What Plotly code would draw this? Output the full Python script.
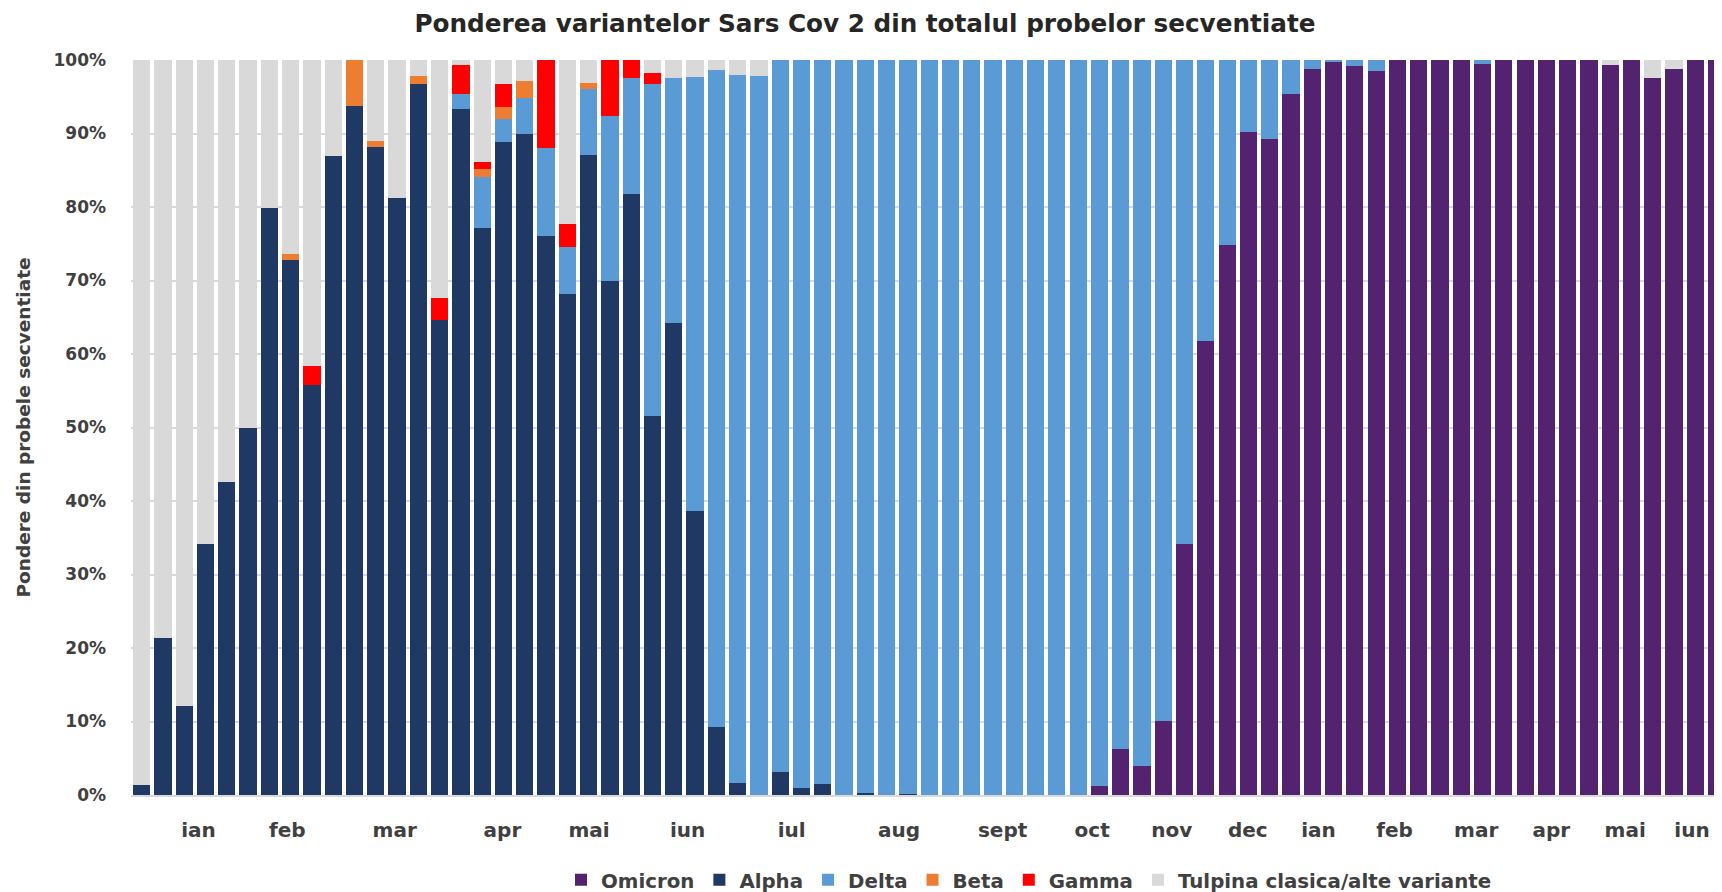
import plotly.graph_objects as go

# ---- data (percent of sequenced samples, one value per weekly bar) ----
omicron = [0]*45 + [1.2, 6.2, 4.0, 10.1, 34.2, 61.8, 74.8, 90.2, 89.2, 95.4,
                    98.8, 99.7, 99.2, 98.5, 100, 100, 100, 100, 99.5, 100,
                    100, 100, 100, 100, 99.3, 100, 97.5, 98.8, 100, 100]
alpha = [1.4, 21.4, 12.1, 34.2, 42.6, 50.0, 79.9, 72.8, 55.8, 86.9,
         93.7, 88.2, 81.2, 96.7, 64.6, 93.4, 77.1, 88.8, 89.9, 76.0,
         68.2, 87.1, 70.0, 81.8, 51.5, 64.2, 38.6, 9.3, 1.7, 0,
         3.1, 1.0, 1.5, 0, 0.25, 0, 0.15] + [0]*38
delta = [0]*15 + [2.0, 7.0, 3.2, 4.9, 12.0, 6.4, 8.9, 22.4, 15.8, 45.3,
                  33.3, 59.1, 89.3, 96.3, 97.8, 96.9, 99.0, 98.5, 100, 99.75,
                  100, 99.85, 100, 100, 100, 100, 100, 100, 100, 100,
                  98.8, 93.8, 96.0, 89.9, 65.8, 38.2, 25.2, 9.8, 10.8, 4.6,
                  1.2, 0.3, 0.8, 1.5, 0, 0, 0, 0, 0.5] + [0]*11
beta = [0, 0, 0, 0, 0, 0, 0, 0.8, 0, 0,
        6.3, 0.8, 0, 1.1, 0, 0, 1.1, 1.6, 2.3, 0,
        0, 0.9] + [0]*53
gamma = [0, 0, 0, 0, 0, 0, 0, 0, 2.6, 0,
         0, 0, 0, 0, 3.0, 3.9, 0.9, 3.1, 0, 12.0,
         3.1, 0, 7.6, 2.4, 1.5] + [0]*50
other = [98.6, 78.6, 87.9, 65.8, 57.4, 50.0, 20.1, 26.4, 41.6, 13.1,
         0, 11.0, 18.8, 2.2, 32.4, 0.7, 13.9, 3.3, 2.9, 0,
         22.3, 3.1, 0, 0, 1.7, 2.5, 2.3, 1.4, 2.0, 2.2] + [0]*39 + \
        [0.7, 0, 2.5, 1.2, 0, 0]

series_names = ["Omicron", "Alpha", "Delta", "Beta", "Gamma",
                "Tulpina clasica/alte variante"]
month_labels = ["ian", "feb", "mar", "apr", "mai", "iun", "iul", "aug", "sept",
                "oct", "nov", "dec", "ian", "feb", "mar", "apr", "mai", "iun"]
# month label positions, in units of weekly bars
month_pos = [2.67, 6.84, 11.89, 16.95, 21.02, 25.65, 30.54, 35.59, 40.45,
             44.66, 48.4, 51.97, 55.29, 58.87, 62.7, 66.23, 69.7, 72.84]

colors = ["#542370", "#1F3864", "#5B9BD5", "#ED7D31", "#FF0000", "#D9D9D9"]

weeks = list(range(len(alpha)))
fig = go.Figure()
for name, vals, col in zip(series_names,
                           [omicron, alpha, delta, beta, gamma, other], colors):
    fig.add_trace(go.Bar(x=weeks, y=vals, name=name, marker_color=col,
                         marker_line_width=0))

# the page adds an 8px body margin, so the figure is 8px smaller than the window
W, H = 1714, 884
TXT = "#404040"
FONT = "DejaVu Sans"
fig.update_layout(
    width=W, height=H,
    barmode="stack", bargap=0.19,
    plot_bgcolor="white", paper_bgcolor="white",
    margin=dict(l=123, r=0, t=52, b=97, autoexpand=False),
    title=dict(text="<b>Ponderea variantelor Sars Cov 2 din totalul probelor secventiate</b>",
               x=0.5, xanchor="center", y=1 - 15/H, yanchor="middle",
               font=dict(family=FONT, size=24.7, color="#262626")),
    legend=dict(orientation="h", xref="container", yref="container",
                x=553/W, xanchor="left", y=12/H, yanchor="middle",
                traceorder="normal",
                font=dict(family=FONT, size=19.8, color=TXT, weight="bold")),
    font=dict(family=FONT, color=TXT),
)
fig.update_xaxes(range=[-0.5, 74.25], tickmode="array", tickvals=month_pos,
                 ticktext=month_labels, showgrid=False, zeroline=False,
                 showline=True, linecolor="#D9D9D9", linewidth=2,
                 ticks="", ticklabelstandoff=16, automargin=False,
                 tickfont=dict(family=FONT, size=20, color=TXT, weight="bold"))
fig.update_yaxes(range=[0, 100], dtick=10, ticksuffix="%", showgrid=True,
                 gridcolor="#D9D9D9", gridwidth=2, zeroline=False,
                 ticks="", ticklabelstandoff=24, automargin=False,
                 tickfont=dict(family=FONT, size=17, color=TXT, weight="bold"),
                 title=dict(text="<b>Pondere din probele secventiate</b>",
                            standoff=17,
                            font=dict(family=FONT, size=18.5, color=TXT)))

fig.write_html("out.html")
